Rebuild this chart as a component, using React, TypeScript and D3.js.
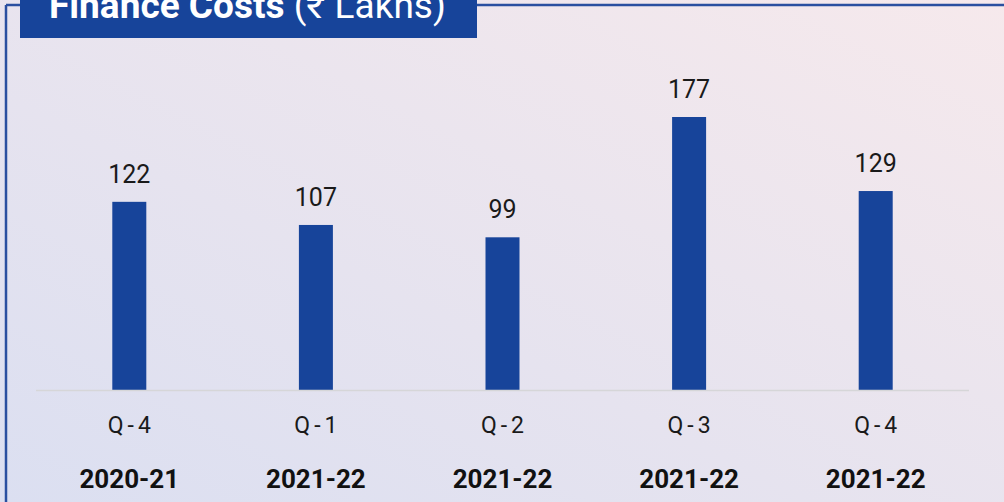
import React, { useRef, useEffect } from "react";
import * as d3 from "d3";

const quarters = ["Q-4", "Q-1", "Q-2", "Q-3", "Q-4"];
const years = ["2020-21", "2021-22", "2021-22", "2021-22", "2021-22"];
const values = [122, 107, 99, 177, 129];

const W = 1004;
const H = 502;
const BLUE = "#17449a";

const App = () => {
  const svgRef = useRef<SVGSVGElement>(null);

  useEffect(() => {
    const svg = d3.select(svgRef.current);
    svg.selectAll("*").remove();

    // background gradient
    const defs = svg.append("defs");
    const grad = defs.append("linearGradient")
      .attr("id", "bg")
      .attr("x1", "0%").attr("y1", "100%")
      .attr("x2", "100%").attr("y2", "0%");
    grad.append("stop").attr("offset", "0%").attr("stop-color", "#dbdff1");
    grad.append("stop").attr("offset", "100%").attr("stop-color", "#f6e9ec");
    svg.append("rect").attr("width", W).attr("height", H).attr("fill", "url(#bg)");

    // frame
    svg.append("line").attr("x1", 6).attr("x2", W).attr("y1", 5).attr("y2", 5)
      .attr("stroke", "#2a4fa0").attr("stroke-width", 2.5);
    svg.append("line").attr("x1", 6).attr("x2", 6).attr("y1", 5).attr("y2", H)
      .attr("stroke", "#2a4fa0").attr("stroke-width", 2.5);

    // title (top is clipped in the original)
    svg.append("rect").attr("x", 20).attr("y", 0).attr("width", 457).attr("height", 38).attr("fill", BLUE);
    const title = svg.append("text").attr("x", 49).attr("y", 18)
      .attr("fill", "#fff").attr("font-size", 37);
    title.append("tspan").attr("font-weight", 700).text("Finance Costs");
    title.append("tspan").attr("font-weight", 400).text(" (₹ Lakhs)");

    const x = d3.scaleBand<number>().domain(d3.range(values.length)).range([36, 969]).paddingInner(0).paddingOuter(0);
    const baseY = 390;
    const y = d3.scaleLinear().domain([0, 177]).range([baseY, 117]);
    const bw = 34;
    const cx = (i: number) => x(i)! + x.bandwidth() / 2;

    const g = svg.append("g");
    g.selectAll("rect.bar").data(values).enter().append("rect")
      .attr("class", "bar")
      .attr("x", (_, i) => cx(i) - bw / 2)
      .attr("y", d => y(d))
      .attr("width", bw)
      .attr("height", d => baseY - y(d))
      .attr("fill", BLUE);

    g.append("line").attr("x1", 36).attr("x2", 969).attr("y1", baseY + 0.5).attr("y2", baseY + 0.5)
      .attr("stroke", "#d6d6d8").attr("stroke-width", 1.5);

    g.selectAll("text.val").data(values).enter().append("text")
      .attr("class", "val")
      .attr("x", (_, i) => cx(i))
      .attr("y", d => y(d) - 19)
      .attr("text-anchor", "middle")
      .attr("font-size", 25)
      .attr("fill", "#1a1a1a")
      .text(d => d);

    g.selectAll("text.q").data(quarters).enter().append("text")
      .attr("class", "q")
      .attr("x", (_, i) => cx(i) + 2)
      .attr("y", 433)
      .attr("text-anchor", "middle")
      .attr("font-size", 23)
      .attr("letter-spacing", 4)
      .attr("fill", "#1a1a1a")
      .text(d => d);

    g.selectAll("text.yr").data(years).enter().append("text")
      .attr("class", "yr")
      .attr("x", (_, i) => cx(i))
      .attr("y", 488)
      .attr("text-anchor", "middle")
      .attr("font-size", 26)
      .attr("font-weight", 700)
      .attr("fill", "#111")
      .text(d => d);
  }, []);

  return (
    <div style={{ position: "fixed", left: 0, top: 0 }}>
      <svg ref={svgRef} width={W} height={H} style={{ display: "block", fontFamily: "Roboto, sans-serif" }}></svg>
    </div>
  );
};

export default App;
